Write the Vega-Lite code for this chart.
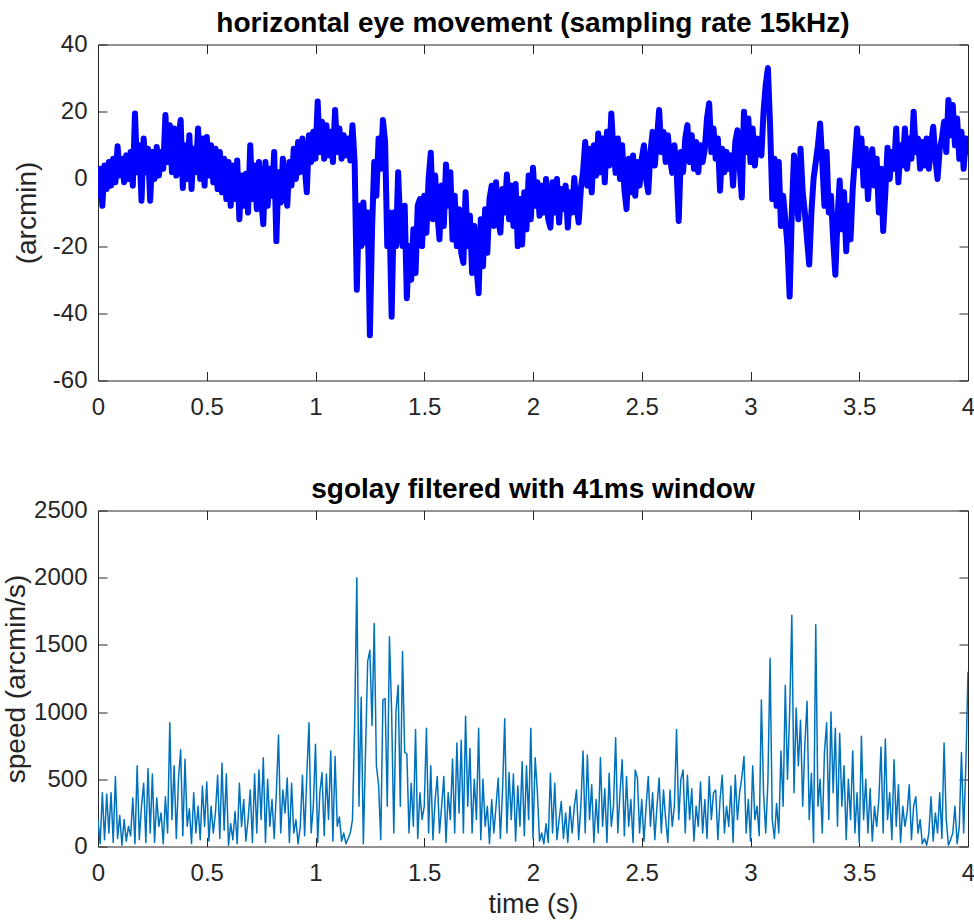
{
  "$schema": "https://vega.github.io/schema/vega-lite/v6.json",
  "background": "white",
  "padding": {"left": 1, "top": 9.5, "right": 2, "bottom": 2},
  "bounds": "flush",
  "spacing": 130,
  "config": {
    "view": {"stroke": "#262626", "strokeWidth": 1},
    "axis": {
      "domain": false, "grid": false, "ticks": true, "tickSize": -9, "tickColor": "#262626", "tickWidth": 1,
      "minExtent": 0,
      "labelFont": "Liberation Sans", "labelFontSize": 24, "labelColor": "#262626",
      "labelFlush": false, "labelOverlap": false, "labelBound": false,
      "titleFont": "Liberation Sans", "titleFontSize": 28, "titleFontWeight": "normal", "titleColor": "#262626"
    },
    "title": {"font": "Liberation Sans", "fontSize": 28, "fontWeight": "bold", "color": "#000000", "anchor": "middle", "frame": "group"}
  },
  "datasets": {
    "eye": [
      {"t":0,"v":-5},{"t":0.01,"v":3},{"t":0.02,"v":-8},{"t":0.03,"v":4},{"t":0.04,"v":-3},{"t":0.05,"v":5},{"t":0.06,"v":-2},{"t":0.07,"v":6},{"t":0.08,"v":-1},{"t":0.09,"v":9.7},
      {"t":0.1,"v":1},{"t":0.11,"v":6},{"t":0.12,"v":-1},{"t":0.13,"v":7},{"t":0.14,"v":0},{"t":0.15,"v":8},{"t":0.16,"v":-2},{"t":0.17,"v":19.5},{"t":0.18,"v":2},{"t":0.19,"v":10},
      {"t":0.2,"v":-6.5},{"t":0.21,"v":12},{"t":0.22,"v":2},{"t":0.23,"v":9},{"t":0.24,"v":-6.5},{"t":0.25,"v":8},{"t":0.26,"v":0},{"t":0.27,"v":9.5},{"t":0.28,"v":1},{"t":0.29,"v":8},
      {"t":0.3,"v":3},{"t":0.31,"v":19},{"t":0.32,"v":5},{"t":0.33,"v":16},{"t":0.34,"v":2},{"t":0.35,"v":15},{"t":0.36,"v":1},{"t":0.37,"v":12},{"t":0.38,"v":17.5},{"t":0.39,"v":-2.7},
      {"t":0.4,"v":10},{"t":0.41,"v":0},{"t":0.42,"v":13},{"t":0.43,"v":-3},{"t":0.44,"v":9},{"t":0.45,"v":2},{"t":0.46,"v":15},{"t":0.47,"v":0},{"t":0.48,"v":12},{"t":0.49,"v":-2},
      {"t":0.5,"v":12.5},{"t":0.51,"v":1},{"t":0.52,"v":10},{"t":0.53,"v":-1},{"t":0.54,"v":9},{"t":0.55,"v":-3},{"t":0.56,"v":8},{"t":0.57,"v":-4},{"t":0.58,"v":6},{"t":0.59,"v":-6},
      {"t":0.6,"v":5},{"t":0.61,"v":-8},{"t":0.62,"v":4},{"t":0.63,"v":-6},{"t":0.64,"v":5.5},{"t":0.65,"v":-12},{"t":0.66,"v":1},{"t":0.67,"v":-8},{"t":0.68,"v":1.5},{"t":0.69,"v":-10},
      {"t":0.7,"v":10},{"t":0.71,"v":-6},{"t":0.72,"v":4},{"t":0.73,"v":-9},{"t":0.74,"v":5},{"t":0.75,"v":-6},{"t":0.76,"v":-13.5},{"t":0.77,"v":5},{"t":0.78,"v":-8},{"t":0.79,"v":3},
      {"t":0.8,"v":-5},{"t":0.81,"v":8},{"t":0.82,"v":-18.5},{"t":0.83,"v":2},{"t":0.84,"v":-7},{"t":0.85,"v":6},{"t":0.86,"v":-4},{"t":0.87,"v":-8},{"t":0.88,"v":5},{"t":0.89,"v":-2},
      {"t":0.9,"v":9},{"t":0.91,"v":0},{"t":0.92,"v":11},{"t":0.93,"v":2},{"t":0.94,"v":12},{"t":0.95,"v":4},{"t":0.96,"v":-4},{"t":0.97,"v":13},{"t":0.98,"v":5},{"t":0.99,"v":14},
      {"t":1,"v":6},{"t":1.01,"v":23},{"t":1.02,"v":8},{"t":1.03,"v":17},{"t":1.04,"v":6},{"t":1.05,"v":16},{"t":1.06,"v":7},{"t":1.07,"v":14},{"t":1.08,"v":5},{"t":1.09,"v":20.5},
      {"t":1.1,"v":8},{"t":1.11,"v":15},{"t":1.12,"v":6},{"t":1.13,"v":13},{"t":1.14,"v":7},{"t":1.15,"v":12},{"t":1.16,"v":5.5},{"t":1.17,"v":16},{"t":1.18,"v":5},{"t":1.19,"v":-33},
      {"t":1.2,"v":-8},{"t":1.21,"v":-20},{"t":1.22,"v":-7},{"t":1.23,"v":-19},{"t":1.24,"v":-10},{"t":1.25,"v":-46.5},{"t":1.26,"v":-15},{"t":1.27,"v":5},{"t":1.28,"v":-5},{"t":1.29,"v":12},
      {"t":1.3,"v":3},{"t":1.31,"v":17.5},{"t":1.32,"v":11},{"t":1.33,"v":-20},{"t":1.34,"v":-10},{"t":1.35,"v":-41},{"t":1.36,"v":-10},{"t":1.37,"v":-20},{"t":1.38,"v":2},{"t":1.39,"v":-15},
      {"t":1.4,"v":-20},{"t":1.41,"v":-8},{"t":1.42,"v":-35.5},{"t":1.43,"v":-20},{"t":1.44,"v":-30},{"t":1.45,"v":-15},{"t":1.46,"v":-28},{"t":1.47,"v":-8},{"t":1.48,"v":-6},{"t":1.49,"v":-20},
      {"t":1.5,"v":-5},{"t":1.51,"v":-16},{"t":1.52,"v":0},{"t":1.53,"v":7.8},{"t":1.54,"v":-12},{"t":1.55,"v":1},{"t":1.56,"v":-10},{"t":1.57,"v":-18},{"t":1.58,"v":-2},{"t":1.59,"v":-14},
      {"t":1.6,"v":4.3},{"t":1.61,"v":-8},{"t":1.62,"v":2},{"t":1.63,"v":-18},{"t":1.64,"v":-5},{"t":1.65,"v":-20},{"t":1.66,"v":-9},{"t":1.67,"v":-22},{"t":1.68,"v":-25},{"t":1.69,"v":-4},
      {"t":1.7,"v":-20},{"t":1.71,"v":-11},{"t":1.72,"v":-28},{"t":1.73,"v":-14},{"t":1.74,"v":-26},{"t":1.75,"v":-34},{"t":1.76,"v":-12},{"t":1.77,"v":-26},{"t":1.78,"v":-9},{"t":1.79,"v":-22},
      {"t":1.8,"v":-6},{"t":1.81,"v":-2},{"t":1.82,"v":-14},{"t":1.83,"v":-1},{"t":1.84,"v":-12},{"t":1.85,"v":-16},{"t":1.86,"v":-3},{"t":1.87,"v":-10},{"t":1.88,"v":1.3},{"t":1.89,"v":-12},
      {"t":1.9,"v":-2},{"t":1.91,"v":-14},{"t":1.92,"v":-1.5},{"t":1.93,"v":-20},{"t":1.94,"v":-6},{"t":1.95,"v":-19.5},{"t":1.96,"v":-4},{"t":1.97,"v":-15},{"t":1.98,"v":1},{"t":1.99,"v":-12},
      {"t":2,"v":3.3},{"t":2.01,"v":-8},{"t":2.02,"v":-1},{"t":2.03,"v":-11},{"t":2.04,"v":-2},{"t":2.05,"v":-10},{"t":2.06,"v":0},{"t":2.07,"v":-12},{"t":2.08,"v":-14.5},{"t":2.09,"v":-1},
      {"t":2.1,"v":-10},{"t":2.11,"v":0},{"t":2.12,"v":-13},{"t":2.13,"v":-3},{"t":2.14,"v":-9},{"t":2.15,"v":-2},{"t":2.16,"v":-14.5},{"t":2.17,"v":-4},{"t":2.18,"v":-10},{"t":2.19,"v":0.3},
      {"t":2.2,"v":-8},{"t":2.21,"v":-13},{"t":2.22,"v":-3},{"t":2.23,"v":2},{"t":2.24,"v":11},{"t":2.25,"v":-2},{"t":2.26,"v":9},{"t":2.27,"v":-4},{"t":2.28,"v":10},{"t":2.29,"v":1},
      {"t":2.3,"v":13.5},{"t":2.31,"v":2},{"t":2.32,"v":12},{"t":2.33,"v":-1},{"t":2.34,"v":14},{"t":2.35,"v":4},{"t":2.36,"v":19.5},{"t":2.37,"v":8},{"t":2.38,"v":1.8},{"t":2.39,"v":12},
      {"t":2.4,"v":0},{"t":2.41,"v":10},{"t":2.42,"v":-3},{"t":2.43,"v":-9},{"t":2.44,"v":6},{"t":2.45,"v":-4},{"t":2.46,"v":7},{"t":2.47,"v":-5},{"t":2.48,"v":5},{"t":2.49,"v":-2},
      {"t":2.5,"v":6},{"t":2.51,"v":10},{"t":2.52,"v":0},{"t":2.53,"v":-4},{"t":2.54,"v":8},{"t":2.55,"v":14},{"t":2.56,"v":4},{"t":2.57,"v":12},{"t":2.58,"v":20.5},{"t":2.59,"v":8},
      {"t":2.6,"v":14},{"t":2.61,"v":5},{"t":2.62,"v":13},{"t":2.63,"v":6},{"t":2.64,"v":1.8},{"t":2.65,"v":10},{"t":2.66,"v":3},{"t":2.67,"v":-12.5},{"t":2.68,"v":8},{"t":2.69,"v":2},
      {"t":2.7,"v":12},{"t":2.71,"v":16},{"t":2.72,"v":5},{"t":2.73,"v":13},{"t":2.74,"v":3},{"t":2.75,"v":11},{"t":2.76,"v":2},{"t":2.77,"v":10},{"t":2.78,"v":5},{"t":2.79,"v":9},
      {"t":2.8,"v":18},{"t":2.81,"v":22.5},{"t":2.82,"v":8},{"t":2.83,"v":15},{"t":2.84,"v":6},{"t":2.85,"v":12},{"t":2.86,"v":-3.5},{"t":2.87,"v":9},{"t":2.88,"v":2},{"t":2.89,"v":8},
      {"t":2.9,"v":3},{"t":2.91,"v":7},{"t":2.92,"v":-2},{"t":2.93,"v":11},{"t":2.94,"v":14.5},{"t":2.95,"v":4},{"t":2.96,"v":-5.5},{"t":2.97,"v":20},{"t":2.98,"v":8},{"t":2.99,"v":18},
      {"t":3,"v":5},{"t":3.01,"v":15},{"t":3.02,"v":4},{"t":3.03,"v":12},{"t":3.04,"v":8},{"t":3.05,"v":7},{"t":3.06,"v":20},{"t":3.07,"v":28},{"t":3.08,"v":33},{"t":3.09,"v":16},
      {"t":3.1,"v":-6},{"t":3.11,"v":6},{"t":3.12,"v":-8},{"t":3.13,"v":5},{"t":3.14,"v":-14},{"t":3.15,"v":-5},{"t":3.16,"v":-12},{"t":3.17,"v":-20},{"t":3.18,"v":-35},{"t":3.19,"v":-10},
      {"t":3.2,"v":7},{"t":3.21,"v":-5},{"t":3.22,"v":-12},{"t":3.23,"v":9},{"t":3.24,"v":-4},{"t":3.25,"v":-10},{"t":3.26,"v":-18},{"t":3.27,"v":-25.5},{"t":3.28,"v":-10},{"t":3.29,"v":0},
      {"t":3.3,"v":5},{"t":3.31,"v":10},{"t":3.32,"v":16.5},{"t":3.33,"v":5},{"t":3.34,"v":-8},{"t":3.35,"v":8},{"t":3.36,"v":-10},{"t":3.37,"v":-5},{"t":3.38,"v":-18},{"t":3.39,"v":-28.5},
      {"t":3.4,"v":-12},{"t":3.41,"v":-0.5},{"t":3.42,"v":-15},{"t":3.43,"v":-4},{"t":3.44,"v":-21.5},{"t":3.45,"v":-8},{"t":3.46,"v":-18},{"t":3.47,"v":-3},{"t":3.48,"v":6},{"t":3.49,"v":15},
      {"t":3.5,"v":4},{"t":3.51,"v":12},{"t":3.52,"v":-2},{"t":3.53,"v":9},{"t":3.54,"v":-6},{"t":3.55,"v":3},{"t":3.56,"v":8.8},{"t":3.57,"v":-2},{"t":3.58,"v":6},{"t":3.59,"v":-10},
      {"t":3.6,"v":3},{"t":3.61,"v":-15.5},{"t":3.62,"v":-4},{"t":3.63,"v":9.3},{"t":3.64,"v":0},{"t":3.65,"v":8},{"t":3.66,"v":3},{"t":3.67,"v":15},{"t":3.68,"v":-1},{"t":3.69,"v":10},
      {"t":3.7,"v":4},{"t":3.71,"v":15},{"t":3.72,"v":3},{"t":3.73,"v":12},{"t":3.74,"v":6},{"t":3.75,"v":20},{"t":3.76,"v":8},{"t":3.77,"v":12},{"t":3.78,"v":3},{"t":3.79,"v":11},
      {"t":3.8,"v":4},{"t":3.81,"v":12},{"t":3.82,"v":3},{"t":3.83,"v":10},{"t":3.84,"v":15.5},{"t":3.85,"v":6},{"t":3.86,"v":0},{"t":3.87,"v":9},{"t":3.88,"v":12},{"t":3.89,"v":17},
      {"t":3.9,"v":8},{"t":3.91,"v":23.5},{"t":3.92,"v":13},{"t":3.93,"v":22},{"t":3.94,"v":10},{"t":3.95,"v":18},{"t":3.96,"v":6},{"t":3.97,"v":14},{"t":3.98,"v":3},{"t":3.99,"v":12},
      {"t":4,"v":8}
    ],
    "speed": [
      {"t":0,"v":200},{"t":0.01,"v":20},{"t":0.02,"v":400},{"t":0.03,"v":50},{"t":0.04,"v":390},{"t":0.05,"v":100},{"t":0.06,"v":400},{"t":0.07,"v":30},{"t":0.08,"v":520},{"t":0.09,"v":60},
      {"t":0.1,"v":230},{"t":0.11,"v":10},{"t":0.12,"v":200},{"t":0.13,"v":40},{"t":0.14,"v":150},{"t":0.15,"v":80},{"t":0.16,"v":360},{"t":0.17,"v":20},{"t":0.18,"v":600},{"t":0.19,"v":50},
      {"t":0.2,"v":300},{"t":0.21,"v":470},{"t":0.22,"v":30},{"t":0.23,"v":580},{"t":0.24,"v":100},{"t":0.25,"v":540},{"t":0.26,"v":30},{"t":0.27,"v":360},{"t":0.28,"v":150},{"t":0.29,"v":250},
      {"t":0.3,"v":20},{"t":0.31,"v":370},{"t":0.32,"v":100},{"t":0.33,"v":920},{"t":0.34,"v":200},{"t":0.35,"v":600},{"t":0.36,"v":60},{"t":0.37,"v":500},{"t":0.38,"v":720},{"t":0.39,"v":80},
      {"t":0.4,"v":650},{"t":0.41,"v":150},{"t":0.42,"v":280},{"t":0.43,"v":20},{"t":0.44,"v":400},{"t":0.45,"v":100},{"t":0.46,"v":300},{"t":0.47,"v":50},{"t":0.48,"v":450},{"t":0.49,"v":150},
      {"t":0.5,"v":480},{"t":0.51,"v":40},{"t":0.52,"v":300},{"t":0.53,"v":100},{"t":0.54,"v":250},{"t":0.55,"v":530},{"t":0.56,"v":60},{"t":0.57,"v":620},{"t":0.58,"v":120},{"t":0.59,"v":540},
      {"t":0.6,"v":10},{"t":0.61,"v":170},{"t":0.62,"v":50},{"t":0.63,"v":260},{"t":0.64,"v":20},{"t":0.65,"v":470},{"t":0.66,"v":150},{"t":0.67,"v":350},{"t":0.68,"v":40},{"t":0.69,"v":200},
      {"t":0.7,"v":420},{"t":0.71,"v":30},{"t":0.72,"v":540},{"t":0.73,"v":100},{"t":0.74,"v":570},{"t":0.75,"v":200},{"t":0.76,"v":660},{"t":0.77,"v":30},{"t":0.78,"v":500},{"t":0.79,"v":150},
      {"t":0.8,"v":350},{"t":0.81,"v":60},{"t":0.82,"v":400},{"t":0.83,"v":830},{"t":0.84,"v":100},{"t":0.85,"v":420},{"t":0.86,"v":250},{"t":0.87,"v":510},{"t":0.88,"v":30},{"t":0.89,"v":470},
      {"t":0.9,"v":100},{"t":0.91,"v":200},{"t":0.92,"v":20},{"t":0.93,"v":150},{"t":0.94,"v":530},{"t":0.95,"v":80},{"t":0.96,"v":530},{"t":0.97,"v":920},{"t":0.98,"v":100},{"t":0.99,"v":300},
      {"t":1,"v":760},{"t":1.01,"v":30},{"t":1.02,"v":400},{"t":1.03,"v":550},{"t":1.04,"v":80},{"t":1.05,"v":540},{"t":1.06,"v":200},{"t":1.07,"v":710},{"t":1.08,"v":40},{"t":1.09,"v":670},
      {"t":1.1,"v":150},{"t":1.11,"v":220},{"t":1.12,"v":40},{"t":1.13,"v":100},{"t":1.14,"v":20},{"t":1.15,"v":60},{"t":1.16,"v":100},{"t":1.17,"v":200},{"t":1.18,"v":900},{"t":1.19,"v":2000},
      {"t":1.2,"v":300},{"t":1.21,"v":1110},{"t":1.22,"v":20},{"t":1.23,"v":700},{"t":1.24,"v":1380},{"t":1.25,"v":1460},{"t":1.26,"v":900},{"t":1.27,"v":1660},{"t":1.28,"v":600},{"t":1.29,"v":460},
      {"t":1.3,"v":50},{"t":1.31,"v":1090},{"t":1.32,"v":1100},{"t":1.33,"v":300},{"t":1.34,"v":1560},{"t":1.35,"v":1000},{"t":1.36,"v":100},{"t":1.37,"v":1000},{"t":1.38,"v":1200},{"t":1.39,"v":300},
      {"t":1.4,"v":1450},{"t":1.41,"v":700},{"t":1.42,"v":690},{"t":1.43,"v":100},{"t":1.44,"v":470},{"t":1.45,"v":150},{"t":1.46,"v":870},{"t":1.47,"v":60},{"t":1.48,"v":400},{"t":1.49,"v":200},
      {"t":1.5,"v":300},{"t":1.51,"v":880},{"t":1.52,"v":100},{"t":1.53,"v":600},{"t":1.54,"v":50},{"t":1.55,"v":350},{"t":1.56,"v":520},{"t":1.57,"v":100},{"t":1.58,"v":300},{"t":1.59,"v":520},
      {"t":1.6,"v":30},{"t":1.61,"v":400},{"t":1.62,"v":200},{"t":1.63,"v":650},{"t":1.64,"v":100},{"t":1.65,"v":770},{"t":1.66,"v":250},{"t":1.67,"v":790},{"t":1.68,"v":100},{"t":1.69,"v":970},
      {"t":1.7,"v":300},{"t":1.71,"v":730},{"t":1.72,"v":100},{"t":1.73,"v":500},{"t":1.74,"v":200},{"t":1.75,"v":880},{"t":1.76,"v":50},{"t":1.77,"v":500},{"t":1.78,"v":150},{"t":1.79,"v":300},
      {"t":1.8,"v":20},{"t":1.81,"v":350},{"t":1.82,"v":100},{"t":1.83,"v":300},{"t":1.84,"v":510},{"t":1.85,"v":60},{"t":1.86,"v":420},{"t":1.87,"v":950},{"t":1.88,"v":100},{"t":1.89,"v":550},
      {"t":1.9,"v":200},{"t":1.91,"v":540},{"t":1.92,"v":40},{"t":1.93,"v":450},{"t":1.94,"v":150},{"t":1.95,"v":630},{"t":1.96,"v":80},{"t":1.97,"v":600},{"t":1.98,"v":200},{"t":1.99,"v":880},
      {"t":2,"v":60},{"t":2.01,"v":660},{"t":2.02,"v":410},{"t":2.03,"v":40},{"t":2.04,"v":100},{"t":2.05,"v":20},{"t":2.06,"v":170},{"t":2.07,"v":30},{"t":2.08,"v":545},{"t":2.09,"v":100},
      {"t":2.1,"v":470},{"t":2.11,"v":50},{"t":2.12,"v":200},{"t":2.13,"v":335},{"t":2.14,"v":60},{"t":2.15,"v":250},{"t":2.16,"v":30},{"t":2.17,"v":300},{"t":2.18,"v":100},{"t":2.19,"v":300},
      {"t":2.2,"v":420},{"t":2.21,"v":50},{"t":2.22,"v":300},{"t":2.23,"v":710},{"t":2.24,"v":100},{"t":2.25,"v":680},{"t":2.26,"v":200},{"t":2.27,"v":460},{"t":2.28,"v":30},{"t":2.29,"v":350},
      {"t":2.3,"v":100},{"t":2.31,"v":660},{"t":2.32,"v":150},{"t":2.33,"v":430},{"t":2.34,"v":30},{"t":2.35,"v":545},{"t":2.36,"v":150},{"t":2.37,"v":300},{"t":2.38,"v":810},{"t":2.39,"v":100},
      {"t":2.4,"v":400},{"t":2.41,"v":645},{"t":2.42,"v":80},{"t":2.43,"v":520},{"t":2.44,"v":150},{"t":2.45,"v":350},{"t":2.46,"v":30},{"t":2.47,"v":570},{"t":2.48,"v":510},{"t":2.49,"v":100},
      {"t":2.5,"v":350},{"t":2.51,"v":40},{"t":2.52,"v":300},{"t":2.53,"v":520},{"t":2.54,"v":150},{"t":2.55,"v":400},{"t":2.56,"v":50},{"t":2.57,"v":300},{"t":2.58,"v":510},{"t":2.59,"v":100},
      {"t":2.6,"v":420},{"t":2.61,"v":200},{"t":2.62,"v":30},{"t":2.63,"v":420},{"t":2.64,"v":150},{"t":2.65,"v":300},{"t":2.66,"v":870},{"t":2.67,"v":200},{"t":2.68,"v":500},{"t":2.69,"v":570},
      {"t":2.7,"v":100},{"t":2.71,"v":530},{"t":2.72,"v":200},{"t":2.73,"v":430},{"t":2.74,"v":40},{"t":2.75,"v":300},{"t":2.76,"v":150},{"t":2.77,"v":480},{"t":2.78,"v":100},{"t":2.79,"v":350},
      {"t":2.8,"v":60},{"t":2.81,"v":520},{"t":2.82,"v":200},{"t":2.83,"v":400},{"t":2.84,"v":420},{"t":2.85,"v":50},{"t":2.86,"v":350},{"t":2.87,"v":530},{"t":2.88,"v":100},{"t":2.89,"v":300},
      {"t":2.9,"v":150},{"t":2.91,"v":450},{"t":2.92,"v":30},{"t":2.93,"v":530},{"t":2.94,"v":200},{"t":2.95,"v":400},{"t":2.96,"v":510},{"t":2.97,"v":670},{"t":2.98,"v":100},{"t":2.99,"v":350},
      {"t":3,"v":40},{"t":3.01,"v":600},{"t":3.02,"v":200},{"t":3.03,"v":300},{"t":3.04,"v":80},{"t":3.05,"v":1090},{"t":3.06,"v":400},{"t":3.07,"v":100},{"t":3.08,"v":480},{"t":3.09,"v":1400},
      {"t":3.1,"v":200},{"t":3.11,"v":60},{"t":3.12,"v":320},{"t":3.13,"v":100},{"t":3.14,"v":710},{"t":3.15,"v":300},{"t":3.16,"v":1200},{"t":3.17,"v":500},{"t":3.18,"v":1000},{"t":3.19,"v":1720},
      {"t":3.2,"v":400},{"t":3.21,"v":1030},{"t":3.22,"v":600},{"t":3.23,"v":940},{"t":3.24,"v":300},{"t":3.25,"v":760},{"t":3.26,"v":1080},{"t":3.27,"v":200},{"t":3.28,"v":545},{"t":3.29,"v":30},
      {"t":3.3,"v":1650},{"t":3.31,"v":300},{"t":3.32,"v":500},{"t":3.33,"v":100},{"t":3.34,"v":700},{"t":3.35,"v":920},{"t":3.36,"v":200},{"t":3.37,"v":1000},{"t":3.38,"v":400},{"t":3.39,"v":880},
      {"t":3.4,"v":150},{"t":3.41,"v":840},{"t":3.42,"v":300},{"t":3.43,"v":600},{"t":3.44,"v":50},{"t":3.45,"v":500},{"t":3.46,"v":200},{"t":3.47,"v":710},{"t":3.48,"v":100},{"t":3.49,"v":400},
      {"t":3.5,"v":30},{"t":3.51,"v":820},{"t":3.52,"v":200},{"t":3.53,"v":500},{"t":3.54,"v":100},{"t":3.55,"v":430},{"t":3.56,"v":40},{"t":3.57,"v":300},{"t":3.58,"v":150},{"t":3.59,"v":350},
      {"t":3.6,"v":740},{"t":3.61,"v":100},{"t":3.62,"v":800},{"t":3.63,"v":200},{"t":3.64,"v":400},{"t":3.65,"v":50},{"t":3.66,"v":645},{"t":3.67,"v":150},{"t":3.68,"v":460},{"t":3.69,"v":30},
      {"t":3.7,"v":300},{"t":3.71,"v":150},{"t":3.72,"v":250},{"t":3.73,"v":460},{"t":3.74,"v":50},{"t":3.75,"v":300},{"t":3.76,"v":370},{"t":3.77,"v":100},{"t":3.78,"v":200},{"t":3.79,"v":20},
      {"t":3.8,"v":60},{"t":3.81,"v":10},{"t":3.82,"v":100},{"t":3.83,"v":370},{"t":3.84,"v":40},{"t":3.85,"v":250},{"t":3.86,"v":100},{"t":3.87,"v":400},{"t":3.88,"v":60},{"t":3.89,"v":770},
      {"t":3.9,"v":200},{"t":3.91,"v":10},{"t":3.92,"v":50},{"t":3.93,"v":100},{"t":3.94,"v":300},{"t":3.95,"v":20},{"t":3.96,"v":150},{"t":3.97,"v":700},{"t":3.98,"v":100},{"t":3.99,"v":600},
      {"t":4,"v":1300}
    ]
  },
  "vconcat": [
    {
      "width": 870,
      "height": 336,
      "title": {"text": "horizontal eye movement (sampling rate 15kHz)", "offset": -27.5, "baseline": "alphabetic"},
      "data": {"name": "eye"},
      "layer": [
        {
          "mark": {"type": "line", "color": "#0000FF", "strokeWidth": 6, "strokeJoin": "round", "strokeCap": "round", "clip": true},
          "encoding": {
            "x": {"field": "t", "type": "quantitative", "scale": {"domain": [0, 4], "nice": false, "zero": false},
                  "axis": {"orient": "bottom", "values": [0, 0.5, 1, 1.5, 2, 2.5, 3, 3.5, 4], "labelExpr": "'' + datum.value", "title": null, "labelPadding": 24}},
            "y": {"field": "v", "type": "quantitative", "scale": {"domain": [-60, 40], "nice": false, "zero": false},
                  "axis": {"orient": "left", "values": [-60, -40, -20, 0, 20, 40], "labelExpr": "'' + datum.value", "title": "(arcmin)", "titleX": -63, "titleY": 168, "titleBaseline": "alphabetic", "titleAngle": -90, "titleAlign": "center", "labelPadding": 20}}
          }
        },
        {
          "mark": {"type": "line", "strokeOpacity": 0},
          "encoding": {
            "x": {"field": "t", "type": "quantitative", "axis": {"orient": "top", "values": [0, 0.5, 1, 1.5, 2, 2.5, 3, 3.5, 4], "labels": false, "title": null}},
            "y": {"field": "v", "type": "quantitative", "axis": {"orient": "right", "values": [-60, -40, -20, 0, 20, 40], "labels": false, "title": null}}
          }
        }
      ]
    },
    {
      "width": 870,
      "height": 336,
      "title": {"text": "sgolay filtered with 41ms window", "offset": -27.5, "baseline": "alphabetic"},
      "data": {"name": "speed"},
      "layer": [
        {
          "mark": {"type": "line", "color": "#0072BD", "strokeWidth": 1.5, "strokeJoin": "round", "clip": true},
          "encoding": {
            "x": {"field": "t", "type": "quantitative", "scale": {"domain": [0, 4], "nice": false, "zero": false},
                  "axis": {"orient": "bottom", "values": [0, 0.5, 1, 1.5, 2, 2.5, 3, 3.5, 4], "labelExpr": "'' + datum.value", "title": "time (s)", "titleFontSize": 27, "titleX": 435, "titleY": 66, "titleBaseline": "alphabetic", "titleAlign": "center", "labelPadding": 24}},
            "y": {"field": "v", "type": "quantitative", "scale": {"domain": [0, 2500], "nice": false, "zero": false},
                  "axis": {"orient": "left", "values": [0, 500, 1000, 1500, 2000, 2500], "labelExpr": "'' + datum.value", "title": "speed (arcmin/s)", "titleX": -74, "titleY": 168, "titleBaseline": "alphabetic", "titleAngle": -90, "titleAlign": "center", "labelPadding": 20}}
          }
        },
        {
          "mark": {"type": "line", "strokeOpacity": 0},
          "encoding": {
            "x": {"field": "t", "type": "quantitative", "axis": {"orient": "top", "values": [0, 0.5, 1, 1.5, 2, 2.5, 3, 3.5, 4], "labels": false, "title": null}},
            "y": {"field": "v", "type": "quantitative", "axis": {"orient": "right", "values": [0, 500, 1000, 1500, 2000, 2500], "labels": false, "title": null}}
          }
        }
      ]
    }
  ]
}
